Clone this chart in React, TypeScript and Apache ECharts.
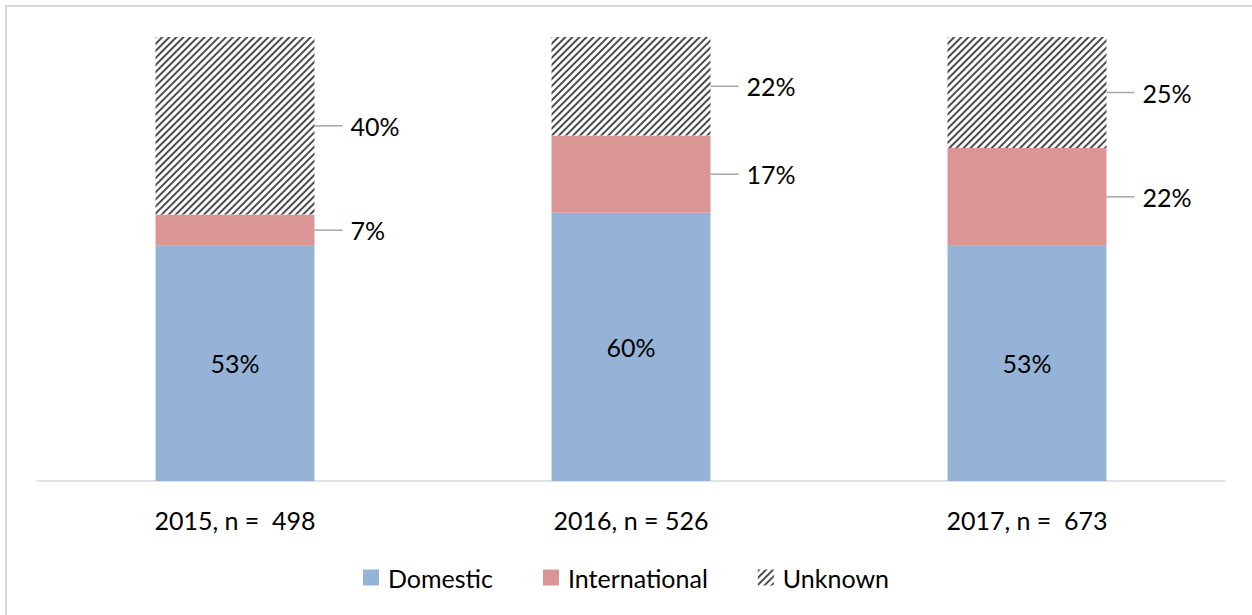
import React, { useEffect, useRef } from "react";
import * as echarts from "echarts";

const categories = ["2015, n =  498", "2016, n = 526", "2017, n =  673"];
const domestic = [53, 60.4, 53];
const international = [7, 17.4, 22];
const unknown = [40, 22.2, 25];

const FONT = "Lato, 'Liberation Sans', sans-serif";
const FS = 25;

export default function App() {
  const ref = useRef<HTMLDivElement>(null);
  useEffect(() => {
    if (!ref.current) return;
    const chart = echarts.init(ref.current, undefined, { renderer: "svg" });
    const sideLabel = {
      show: true,
      position: "right" as const,
      distance: 0,
      formatter: (p: any) => "{l|}{v|" + Math.round(p.value) + "%}",
      rich: {
        l: { width: 28, height: 1.5, backgroundColor: "#a6a6a6" },
        v: { fontSize: FS, fontFamily: FONT, color: "#000", padding: [0, 0, 0, 8] },
      },
    };
    chart.setOption({
      animation: false,
      textStyle: { fontFamily: FONT },
      grid: { left: 37, right: 27, top: 37, bottom: 134 },
      graphic: [
        {
          type: "rect",
          shape: { x: 6, y: 6, width: 1300, height: 700 },
          style: { fill: "none", stroke: "#d9d9d9", lineWidth: 2 },
          silent: true,
        },
      ],
      legend: {
        bottom: 20,
        left: "center",
        itemWidth: 16,
        itemHeight: 16,
        itemGap: 50,
        icon: "rect",
        textStyle: { fontSize: FS, fontFamily: FONT, color: "#000", padding: [0, 0, 0, 4] },
        data: ["Domestic", "International", "Unknown"],
      },
      xAxis: {
        type: "category",
        data: categories,
        axisLine: { lineStyle: { color: "#d9d9d9", width: 1.5 } },
        axisTick: { show: false },
        axisLabel: { fontSize: FS, fontFamily: FONT, color: "#000", margin: 26 },
      },
      yAxis: { type: "value", min: 0, max: 100, show: false, splitLine: { show: false } },
      series: [
        {
          name: "Domestic",
          type: "bar",
          stack: "a",
          barWidth: 159,
          data: domestic,
          itemStyle: { color: "#95b3d7" },
          label: {
            show: true,
            position: "inside",
            fontSize: FS,
            fontFamily: FONT,
            color: "#000",
            formatter: (p: any) => Math.round(p.value) + "%",
          },
        },
        {
          name: "International",
          type: "bar",
          stack: "a",
          data: international,
          itemStyle: { color: "#d99694" },
          label: sideLabel,
        },
        {
          name: "Unknown",
          type: "bar",
          stack: "a",
          data: unknown,
          itemStyle: {
            color: "#ffffff",
            decal: {
              symbol: "rect",
              symbolSize: 1,
              dashArrayX: [1, 0],
              dashArrayY: [1.1, 2.2],
              rotation: -Math.PI / 4,
              color: "#4d4d4d",
            },
          },
          label: sideLabel,
        },
      ],
    });
    return () => chart.dispose();
  }, []);
  return (
    <div
      ref={ref}
      style={{ position: "fixed", left: 0, top: 0, width: 1252, height: 615, background: "#fff" }}
    />
  );
}
